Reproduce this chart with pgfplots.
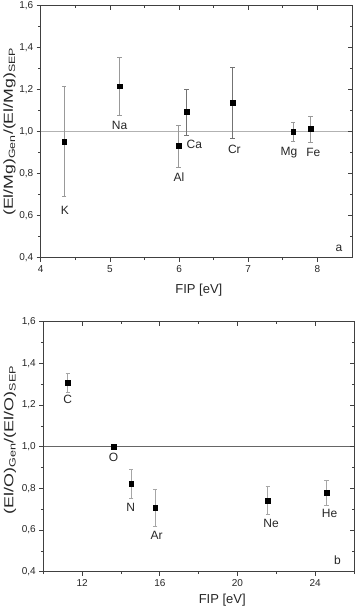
\documentclass[border=0pt]{standalone}
\usepackage{fontspec}
\setmainfont{Liberation Sans}
\usepackage{pgfplots}
\usepackage{pgfplotstable}
\pgfplotsset{compat=1.18}

\pgfplotstableread{
x y ep em
4.34 0.952 0.265 0.262
5.14 1.217 0.139 0.139
5.99 0.932 0.100 0.103
7.65 1.000 0.046 0.046
7.90 1.016 0.059 0.065
}\topLight
\pgfplotstableread{
x y ep em
6.11 1.095 0.108 0.111
6.77 1.138 0.167 0.170
}\topDark
\pgfplotstableread{
x y ep em
11.26 1.307 0.047 0.048
13.62 1.000 0.000 0.000
14.53 0.824 0.069 0.072
15.76 0.707 0.090 0.091
21.56 0.741 0.067 0.066
24.59 0.779 0.061 0.059
}\bottomData

\tikzset{lab/.style={font=\fontsize{12}{14}\selectfont, text=black!85}}

\begin{document}
\begin{tikzpicture}
\useasboundingbox (0pt,0pt) rectangle (357pt,612pt);
\pgfplotsset{
  base/.style={
    scale only axis, anchor=south west, clip=false,
    axis line style={black!75, line width=0.8pt},
    tick style={black!75, line width=0.7pt},
    major tick length=4pt, minor tick length=2.5pt,
    ymin=0.4, ymax=1.6,
    ytick={0.4,0.6,0.8,1.0,1.2,1.4,1.6},
    minor y tick num=1,
    /pgf/number format/assume math mode=true,
  },
  main/.style={
    base,
    tick align=outside,
    xtick pos=left, ytick pos=left,
    yticklabel style={/pgf/number format/.cd, fixed, fixed zerofill, precision=1, use comma, assume math mode=true},
    ticklabel style={font=\fontsize{10}{12}\selectfont, text=black!85},
    label style={font=\fontsize{13}{15}\selectfont, text=black!85},
    ylabel style={anchor=base, rotate=0},
    xlabel style={anchor=base},
  },
  mirror/.style={
    base,
    tick align=inside,
    xtick pos=right, ytick pos=right,
    xticklabels={}, yticklabels={},
  },
  pts/.style={only marks, mark=square*, mark size=2.4pt, black,
    mark options={fill=black},
    error bars/.cd, y dir=both, y explicit,
    error bar style={line width=0.7pt, #1},
    error mark options={rotate=90, mark size=2.2pt, line width=0.6pt, #1}},
}

% ---------- top panel ----------
\begin{axis}[main, at={(40.7pt,354.3pt)}, width=311.3pt, height=252pt,
  xmin=4, xmax=8.5, xtick={4,5,6,7,8}, minor x tick num=1,
  xlabel={FIP [eV]},
  xlabel style={at={(axis description cs:0.508,-0.141)}},
  ylabel={\scalebox{1.36}[1]{(El/Mg)\textsubscript{Gen}/(El/Mg)\textsubscript{SEP}}},
  ylabel style={at={(axis description cs:-0.089,0.5)}},
]
\addplot[black!30, line width=0.8pt] coordinates {(4,1) (8.5,1)};
\addplot+[pts=black!40] table[x=x, y=y, y error plus=ep, y error minus=em] {\topLight};
\addplot+[pts=black!55] table[x=x, y=y, y error plus=ep, y error minus=em] {\topDark};
\node[lab] at (axis cs:4.35,0.627) {K};
\node[lab] at (axis cs:5.14,1.029) {Na};
\node[lab] at (axis cs:6.0,0.782) {Al};
\node[lab] at (axis cs:6.22,0.940) {Ca};
\node[lab] at (axis cs:6.8,0.917) {Cr};
\node[lab] at (axis cs:7.59,0.90) {Mg};
\node[lab] at (axis cs:7.94,0.90) {Fe};
\node[lab] at (axis cs:8.31,0.444) {a};
\end{axis}
\begin{axis}[mirror, at={(40.7pt,354.3pt)}, width=311.3pt, height=252pt,
  xmin=4, xmax=8.5, xtick={4,5,6,7,8}, minor x tick num=1]
\end{axis}

% ---------- bottom panel ----------
\begin{axis}[main, at={(43.3pt,40.3pt)}, width=310.7pt, height=250pt,
  xmin=10, xmax=26, xtick={12,16,20,24}, minor xtick={10,14,18,22,26},
  xlabel={FIP [eV]},
  xlabel style={at={(axis description cs:0.576,-0.126)}},
  ylabel={\scalebox{1.38}[1]{(El/O)\textsubscript{Gen}/(El/O)\textsubscript{SEP}}},
  ylabel style={at={(axis description cs:-0.0966,0.527)}},
]
\addplot[black!60, line width=0.8pt] coordinates {(10,1) (26,1)};
\addplot+[pts=black!35] table[x=x, y=y, y error plus=ep, y error minus=em] {\bottomData};
\node[lab] at (axis cs:11.26,1.229) {C};
\node[lab] at (axis cs:13.62,0.949) {O};
\node[lab] at (axis cs:14.5,0.709) {N};
\node[lab] at (axis cs:15.83,0.576) {Ar};
\node[lab] at (axis cs:21.73,0.634) {Ne};
\node[lab] at (axis cs:24.74,0.679) {He};
\node[lab] at (axis cs:25.15,0.453) {b};
\end{axis}
\begin{axis}[mirror, at={(43.3pt,40.3pt)}, width=310.7pt, height=250pt,
  xmin=10, xmax=26, xtick={12,16,20,24}, minor xtick={10,14,18,22,26}]
\end{axis}
\end{tikzpicture}
\end{document}
